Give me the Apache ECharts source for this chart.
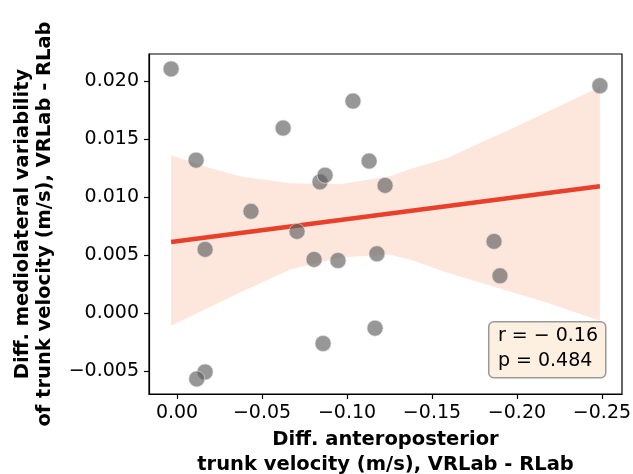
<!DOCTYPE html>
<html>
<head>
<meta charset="utf-8">
<script src="https://cdn.jsdelivr.net/npm/echarts@6/dist/echarts.min.js"></script>
<style>
  html, body { margin: 0; padding: 0; background: #fff; }
  #main { width: 633px; height: 474px; }
</style>
</head>
<body>
<div id="main"></div>
<script>
// scatter points
var ptX = [0.0035, -0.0112, -0.0165, -0.0165, -0.0116, -0.0435, -0.0624, -0.0706, -0.0806, -0.0841, -0.0871,
           -0.0859, -0.0947, -0.1035, -0.1130, -0.1165, -0.1176, -0.1224, -0.1865, -0.1900, -0.2488];
var ptY = [0.02105, 0.01318, 0.00548, -0.0051, -0.0057, 0.00876, 0.01595, 0.00703, 0.00461, 0.0113, 0.01188,
           -0.00264, 0.00452, 0.01828, 0.0131, -0.00132, 0.0051, 0.0110, 0.00617, 0.0032, 0.0196];
// regression line ends
var lineX = [0.0035, -0.2488];
var lineY = [0.00612, 0.01093];
// confidence band
var bandX = [0.0035, -0.0176, -0.0371, -0.0665, -0.0959, -0.1253, -0.1388, -0.1588, -0.1782, -0.1976, -0.2176, -0.2488];
var bandUpper = [0.01361, 0.01257, 0.01179, 0.01119, 0.01110, 0.01179, 0.01248, 0.01335, 0.01465, 0.01594, 0.01733, 0.01949];
var bandLower = [-0.0011, 0.00037, 0.00176, 0.00375, 0.00478, 0.00504, 0.00453, 0.00349, 0.00262, 0.00176, 0.00089, -0.00067];
// ticks
var xTicks = [0, -0.05, -0.10, -0.15, -0.20, -0.25];
var yTicks = [-0.005, 0, 0.005, 0.010, 0.015, 0.020];

var FONT = 'DejaVu Sans';
function fmt(v, d) {
    return (v < -1e-12 ? '\u2212' : '') + Math.abs(v).toFixed(d);
}

var points = ptX.map(function (x, i) { return [x, ptY[i]]; });
var line = lineX.map(function (x, i) { return [x, lineY[i]]; });

var myChart = echarts.init(document.getElementById('main'));
var option = {
    animation: false,
    grid: {
        left: 149, right: 11, top: 54, bottom: 80,
        outerBoundsMode: 'none',
        containLabel: false,
        show: true, borderColor: '#000', borderWidth: 1.2, backgroundColor: 'transparent'
    },
    xAxis: {
        type: 'value',
        inverse: true,
        min: -0.2618,
        max: 0.0165,
        name: 'Diff. anteroposterior\ntrunk velocity (m/s), VRLab - RLab',
        nameLocation: 'middle',
        nameGap: 33,
        nameTextStyle: { fontFamily: FONT, fontWeight: 'bold', fontSize: 19.5, color: '#000', lineHeight: 25 },
        axisLine: { show: true, onZero: false, lineStyle: { color: '#000', width: 1.2 } },
        axisTick: { show: true, length: 5, lineStyle: { color: '#000', width: 1.2 }, customValues: xTicks },
        axisLabel: {
            fontFamily: FONT, fontSize: 19, color: '#000', margin: 10,
            customValues: xTicks,
            formatter: function (v) { return fmt(v, 2); }
        },
        splitLine: { show: false }
    },
    yAxis: {
        type: 'value',
        min: -0.0070,
        max: 0.02234,
        name: 'Diff. mediolateral variability\nof trunk velocity (m/s), VRLab - RLab',
        nameLocation: 'middle',
        nameRotate: 90,
        nameGap: 93,
        nameTextStyle: { fontFamily: FONT, fontWeight: 'bold', fontSize: 19.5, color: '#000', lineHeight: 22 },
        axisLine: { show: true, onZero: false, lineStyle: { color: '#000', width: 1.2 } },
        axisTick: { show: true, length: 5, lineStyle: { color: '#000', width: 1.2 }, customValues: yTicks },
        axisLabel: {
            fontFamily: FONT, fontSize: 19, color: '#000', margin: 10,
            customValues: yTicks,
            formatter: function (v) { return fmt(v, 3); }
        },
        splitLine: { show: false }
    },
    series: [
        {
            type: 'custom',
            z: 1,
            silent: true,
            data: [[0]],
            renderItem: function (params, api) {
                var pts = [];
                for (var i = 0; i < bandX.length; i++) pts.push(api.coord([bandX[i], bandUpper[i]]));
                for (var j = bandX.length - 1; j >= 0; j--) pts.push(api.coord([bandX[j], bandLower[j]]));
                return {
                    type: 'polygon',
                    shape: { points: pts },
                    style: { fill: 'rgba(250,196,172,0.42)', stroke: 'none' }
                };
            }
        },
        {
            type: 'line',
            z: 2,
            data: line,
            symbol: 'none',
            lineStyle: { color: '#e8402a', width: 4.5 }
        },
        {
            type: 'scatter',
            z: 3,
            data: points,
            symbolSize: 16,
            itemStyle: {
                color: 'rgba(92,92,92,0.8)',
                borderColor: 'rgba(225,225,225,0.8)',
                borderWidth: 1
            }
        }
    ],
    graphic: [
        {
            type: 'rect',
            left: 488, top: 321,
            shape: { width: 117, height: 56, r: 5 },
            style: { fill: 'rgba(253,240,224,1)', stroke: '#999', lineWidth: 1.5 },
            z: 10
        },
        {
            type: 'text',
            right: 35, top: 321,
            style: {
                text: 'r = \u2212 0.16\np = 0.484',
                fontFamily: FONT, fontSize: 19, fill: '#000',
                align: 'right', lineHeight: 25,
                padding: [3, 0, 0, 0]
            },
            z: 11
        }
    ]
};
myChart.setOption(option);
</script>
</body>
</html>
